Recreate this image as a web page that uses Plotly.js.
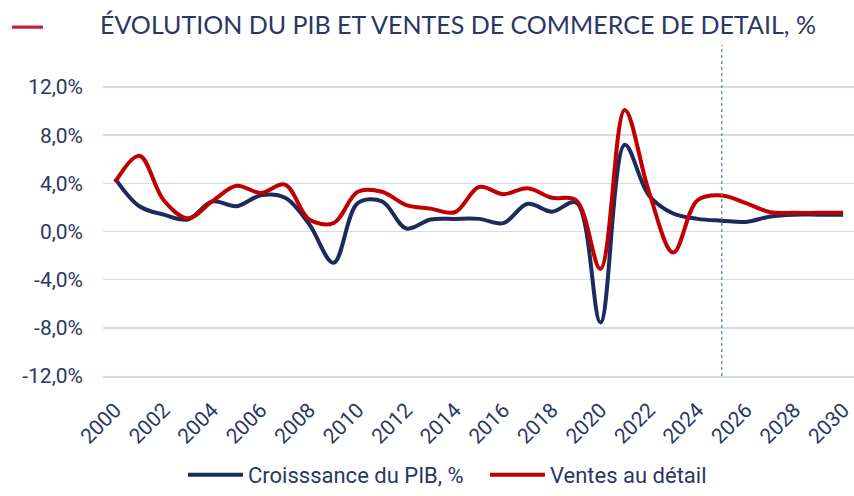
<!DOCTYPE html>
<html>
<head>
<meta charset="utf-8">
<script src="https://cdn.plot.ly/plotly-3.0.1.min.js"></script>
<style>html,body{margin:0;padding:0;background:#fff;}#chart{width:854px;height:496px;}</style>
</head>
<body>
<div id="chart"></div>
<script>
const years = [2000,2001,2002,2003,2004,2005,2006,2007,2008,2009,2010,2011,2012,2013,2014,2015,2016,2017,2018,2019,2020,2021,2022,2023,2024,2025,2026,2027,2028,2029,2030];
const pib = [4.4,2.1,1.4,1.0,2.5,2.1,3.0,2.8,0.6,-2.6,2.35,2.5,0.25,1.0,1.05,1.05,0.7,2.3,1.65,2.4,-7.55,7.2,3.0,1.5,1.05,0.9,0.8,1.25,1.4,1.4,1.4];
const ventes = [4.1,6.3,2.6,1.1,2.5,3.8,3.2,3.9,1.0,0.7,3.3,3.3,2.2,1.9,1.6,3.7,3.1,3.6,2.8,2.6,-3.1,10.1,3.3,-1.75,2.6,3.0,2.35,1.6,1.55,1.55,1.55];
const names = ["Croisssance du PIB, %", "Ventes au détail"];
const titleText = "ÉVOLUTION DU PIB ET VENTES DE COMMERCE DE DETAIL, %";
const yTickVals = [-12,-8,-4,0,4,8,12];
const yTickText = ["-12,0%","-8,0%","-4,0%","0,0%","4,0%","8,0%","12,0%"];
const xTickVals = [2000,2002,2004,2006,2008,2010,2012,2014,2016,2018,2020,2022,2024,2026,2028,2030];
const forecastStart = 2025;

const navy = '#1d2b5c';
const red = '#c00000';
const txt = '#2b3763';
const grid = '#d3daf3';

const traces = [
  {x: years, y: pib, name: names[0], type: 'scatter', mode: 'lines',
   line: {color: navy, width: 4, shape: 'spline', smoothing: 1}},
  {x: years, y: ventes, name: names[1], type: 'scatter', mode: 'lines',
   line: {color: red, width: 4, shape: 'spline', smoothing: 1}}
];

const layout = {
  width: 854, height: 496,
  margin: {l: 103, r: 0, t: 75, b: 116, pad: 0},
  paper_bgcolor: '#fff', plot_bgcolor: '#fff',
  title: {text: titleText, font: {family: 'Lato, sans-serif', size: 25, color: txt},
          x: 100/854, xanchor: 'left', xref: 'container', y: 1 - 25.5/496, yanchor: 'middle', yref: 'container'},
  xaxis: {range: [1999.5, 2030.45], tickvals: xTickVals, tickangle: -45,
          showgrid: false, zeroline: false, showline: true, linecolor: grid, linewidth: 1.5,
          ticks: '', ticklabelstandoff: 12, ticklabeloverflow: 'allow',
          tickfont: {family: 'Roboto, sans-serif', size: 21, color: txt}},
  yaxis: {range: [-12, 13], tickvals: yTickVals, ticktext: yTickText,
          showgrid: true, gridcolor: grid, gridwidth: 1.5, zeroline: false, showline: false,
          ticks: '', ticklabelstandoff: 19,
          tickfont: {family: 'Roboto, sans-serif', size: 21, color: txt}},
  legend: {orientation: 'h', x: 0.1065, xanchor: 'left', y: -0.331, yanchor: 'middle',
           itemwidth: 55, entrywidth: 232,
           font: {family: 'Roboto, sans-serif', size: 22, color: txt}},
  showlegend: true,
  shapes: [
    {type: 'line', xref: 'x', yref: 'paper', x0: forecastStart, x1: forecastStart, y0: 0, y1: 1.10,
     line: {color: '#5b84a3', width: 1.3, dash: '3px,3px'}},
    {type: 'line', xref: 'paper', yref: 'paper', x0: -0.121, x1: -0.080, y0: 1.159, y1: 1.159,
     line: {color: '#c8203c', width: 3.3}}
  ]
};

Plotly.newPlot('chart', traces, layout, {displayModeBar: false, staticPlot: true});
</script>
</body>
</html>
